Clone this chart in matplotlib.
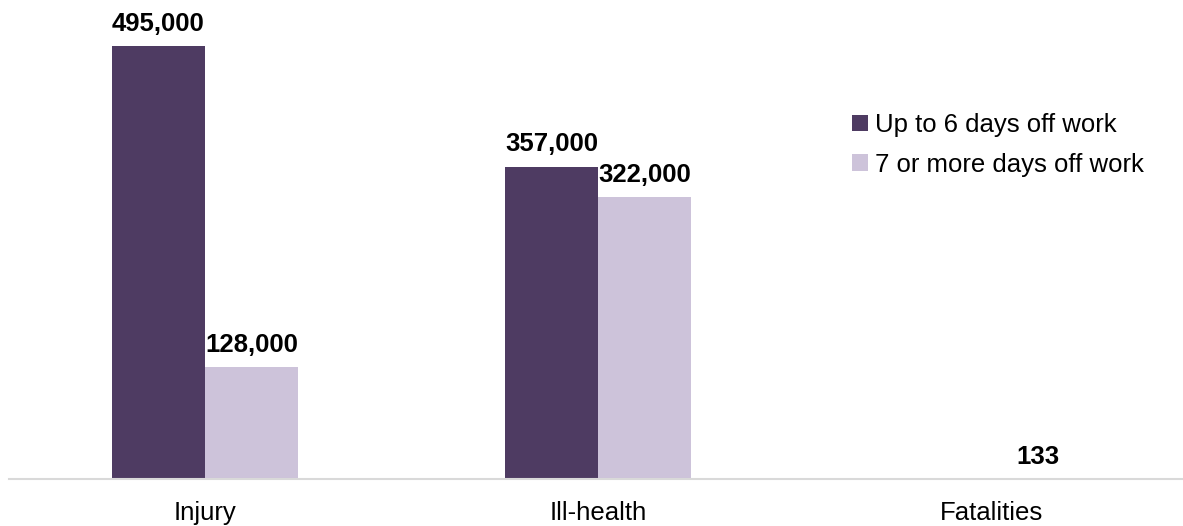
import matplotlib.pyplot as plt
import numpy as np

# data
categories = ['Injury', 'Ill-health', 'Fatalities']
up_to_6 = [495000, 357000, np.nan]
seven_plus = [128000, 322000, 133]
series_names = ['Up to 6 days off work', '7 or more days off work']
colors = ['#4E3B62', '#CDC3DA']

plt.rcParams['font.family'] = ['Liberation Sans', 'DejaVu Sans']

fig = plt.figure(figsize=(11.83, 5.26), dpi=100)
ax = fig.add_axes([8.5/1183, 47/526, 1179/1183, 479/526])

x = np.arange(len(categories))
w = 0.237
series = [up_to_6, seven_plus]
for i, vals in enumerate(series):
    pos = x + (i - 0.5) * w
    ax.bar(pos, vals, width=w, color=colors[i], label=series_names[i])
    for p, v in zip(pos, vals):
        if np.isnan(v):
            continue
        ax.annotate(f'{v:,.0f}', (p, v), xytext=(0, 11), textcoords='offset points',
                    ha='center', va='baseline', fontsize=18.5, fontweight='bold')

ax.set_xlim(-0.5, 2.5)
ax.set_ylim(0, 547600)
ax.set_xticks(x)
ax.set_xticklabels(categories, fontsize=18.5)
ax.tick_params(axis='x', length=0, pad=16)
ax.set_yticks([])
for s in ['top', 'right', 'left']:
    ax.spines[s].set_visible(False)
ax.spines['bottom'].set_color('#D9D9D9')
ax.spines['bottom'].set_linewidth(1.5)

fig.legend(loc='upper left', bbox_to_anchor=(829/1183, 1 - 90/526), frameon=False,
           fontsize=18.5, handlelength=0.6, handleheight=0.6, handletextpad=0.3,
           labelspacing=0.6)

fig.savefig('out.png', dpi=100)
